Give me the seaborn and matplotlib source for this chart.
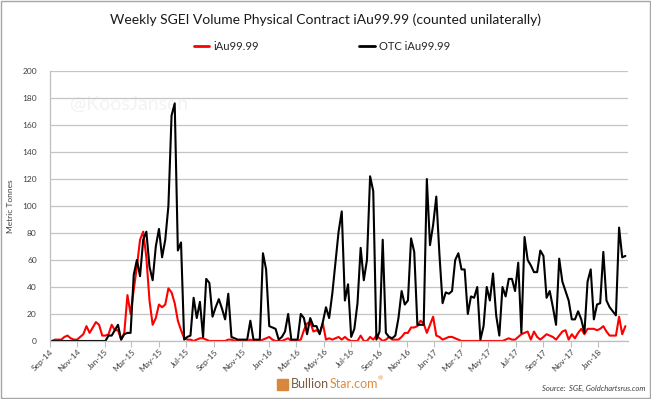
import pandas as pd
import numpy as np
import matplotlib
matplotlib.use('Agg')
import matplotlib.pyplot as plt
import matplotlib.dates as mdates
from matplotlib.lines import Line2D
from matplotlib.patches import Rectangle
import seaborn as sns

# Weekly volumes (metric tonnes), first week starting early Sep 2014
start_date = '2014-09-05'

iau_9999 = [0, 1, 1, 1, 3, 4, 2, 1, 1, 3, 5, 11, 6, 10, 14, 12, 4, 4, 5, 12,
            8, 8, 1, 6, 34, 20, 38, 55, 75, 81, 62, 30, 12, 17, 27, 25, 27, 39, 36, 28,
            15, 8, 2, 1, 1, 0, 1, 2, 2, 1, 0, 0, 0, 0, 0, 0, 1, 1, 0, 0,
            0, 0, 0, 1, 0, 0, 0, 1, 2, 3, 1, 0, 0, 0, 1, 2, 0, 0, 0, 1,
            8, 13, 14, 7, 8, 6, 13, 1, 2, 1, 2, 3, 1, 3, 1, 0, 0, 0, 4, 0,
            0, 3, 1, 4, 2, 0, 1, 3, 1, 1, 1, 3, 6, 6, 10, 10, 11, 15, 13, 6,
            12, 18, 4, 3, 1, 2, 3, 3, 2, 1, 0, 0, 0, 0, 0, 0, 0, 0, 0, 0,
            0, 0, 0, 0, 1, 2, 1, 1, 3, 5, 6, 7, 1, 7, 3, 1, 3, 5, 4, 3,
            1, 4, 7, 8, 1, 5, 2, 6, 9, 5, 9, 9, 9, 8, 9, 11, 7, 4, 4, 4,
            18, 5, 11]

otc_iau_9999 = [0, 0, 0, 0, 0, 0, 0, 0, 0, 0, 0, 0, 0, 0, 0, 0, 0, 0, 4, 4,
                8, 12, 1, 5, 6, 6, 49, 60, 48, 75, 81, 55, 45, 70, 83, 62, 75, 100, 167, 176,
                67, 73, 1, 3, 4, 32, 17, 29, 3, 46, 43, 18, 25, 31, 24, 16, 35, 3, 2, 1,
                1, 1, 1, 15, 1, 1, 1, 65, 53, 11, 10, 9, 1, 3, 7, 20, 1, 1, 1, 20,
                17, 5, 17, 11, 11, 5, 14, 25, 17, 35, 58, 81, 96, 30, 42, 3, 9, 28, 69, 45,
                60, 122, 111, 1, 7, 75, 6, 3, 2, 4, 17, 37, 27, 30, 76, 66, 12, 12, 12, 120,
                71, 86, 107, 64, 28, 36, 35, 37, 60, 65, 53, 53, 20, 33, 32, 40, 1, 11, 40, 30,
                50, 19, 4, 40, 33, 46, 46, 37, 58, 6, 77, 60, 56, 51, 51, 67, 63, 32, 37, 25,
                12, 61, 44, 37, 30, 16, 16, 22, 16, 6, 44, 53, 16, 27, 28, 66, 30, 25, 22, 19,
                84, 62, 63]

series_names = ['iAu99.99', 'OTC iAu99.99']
series_colors = ['#ff0000', '#000000']

weeks = pd.date_range(start_date, periods=len(iau_9999), freq='7D')
df = pd.DataFrame({'week': weeks, series_names[0]: iau_9999, series_names[1]: otc_iau_9999})
long_df = df.melt(id_vars='week', var_name='series', value_name='tonnes')

sns.set_style('white')
plt.rcParams['font.family'] = ['Lato', 'DejaVu Sans']

fig = plt.figure(figsize=(6.51, 3.99), dpi=100)
ax = fig.add_axes([0.0768, 0.1454, 0.888, 0.6766])

sns.lineplot(data=long_df, x='week', y='tonnes', hue='series',
             palette=dict(zip(series_names, series_colors)), linewidth=1.5,
             legend=False, ax=ax)

ax.set_ylim(0, 200)
ax.set_yticks(range(0, 201, 20))
ax.set_xlim(pd.Timestamp('2014-09-01'), pd.Timestamp('2018-03-08'))
tick_dates = pd.date_range('2014-09-01', '2018-01-01', freq='2MS')
ax.set_xticks(tick_dates)
ax.xaxis.set_major_formatter(mdates.DateFormatter('%b-%y'))
ax.grid(axis='y', color='#c4c4c4', linewidth=0.9)
ax.set_axisbelow(True)
for side in ['top', 'right']:
    ax.spines[side].set_visible(False)
for side in ['left', 'bottom']:
    ax.spines[side].set_color('#bfbfbf')
    ax.spines[side].set_linewidth(0.9)
ax.tick_params(axis='x', which='major', bottom=True, length=4, color='#bfbfbf',
               labelsize=6, labelcolor='#404040', pad=1)
ax.tick_params(axis='y', left=False, labelsize=6, labelcolor='#404040', pad=6)
plt.setp(ax.get_xticklabels(), rotation=45, ha='right', rotation_mode='anchor')
ax.set_xlabel('')
ax.set_ylabel('Metric Tonnes', fontsize=6, color='#404040')
ax.yaxis.set_label_coords(-0.062, 0.5)

# watermark
ax.text(0.035, 0.855, '@KoosJansen', transform=ax.transAxes, fontsize=14,
        color='#f3f3f3', zorder=0)

fig.text(0.5, 1 - 20 / 399, 'Weekly SGEI Volume Physical Contract iAu99.99 (counted unilaterally)',
         ha='center', va='center', fontsize=10, color='#1a1a1a')

handles = [Line2D([0], [0], color=c, linewidth=2) for c in series_colors]
fig.legend(handles, series_names, loc='center', bbox_to_anchor=(0.495, 1 - 46 / 399), ncol=2,
           frameon=False, fontsize=8, handlelength=1.4, handletextpad=0.4, columnspacing=9)

# footer
fig.patches.append(Rectangle((277 / 651, 1 - 390 / 399), 11 / 651, 11 / 399,
                             transform=fig.transFigure, color='#d9873a'))
t1 = fig.text(291 / 651, 1 - 384 / 399, 'Bullion', fontsize=9, color='#7a5c3e', va='center')
fig.canvas.draw()
bb = t1.get_window_extent()
t2 = fig.text(bb.x1 / fig.bbox.width, 1 - 384 / 399, 'Star.com', fontsize=9,
              color='#e08a3c', va='center')
fig.canvas.draw()
bb2 = t2.get_window_extent()
fig.text(bb2.x1 / fig.bbox.width, 1 - 379 / 399, '\u00ae', fontsize=4.5,
         color='#e08a3c', va='center')
fig.text(645 / 651, 1 - 388 / 399, 'Source:  SGE, Goldchartsrus.com', fontsize=5.5,
         style='italic', color='#404040', ha='right', va='center')

fig.patches.append(Rectangle((0.001, 0.002), 0.997, 0.996, transform=fig.transFigure,
                             fill=False, edgecolor='#a6a6a6', linewidth=1))

fig.savefig('out.png', dpi=100)
